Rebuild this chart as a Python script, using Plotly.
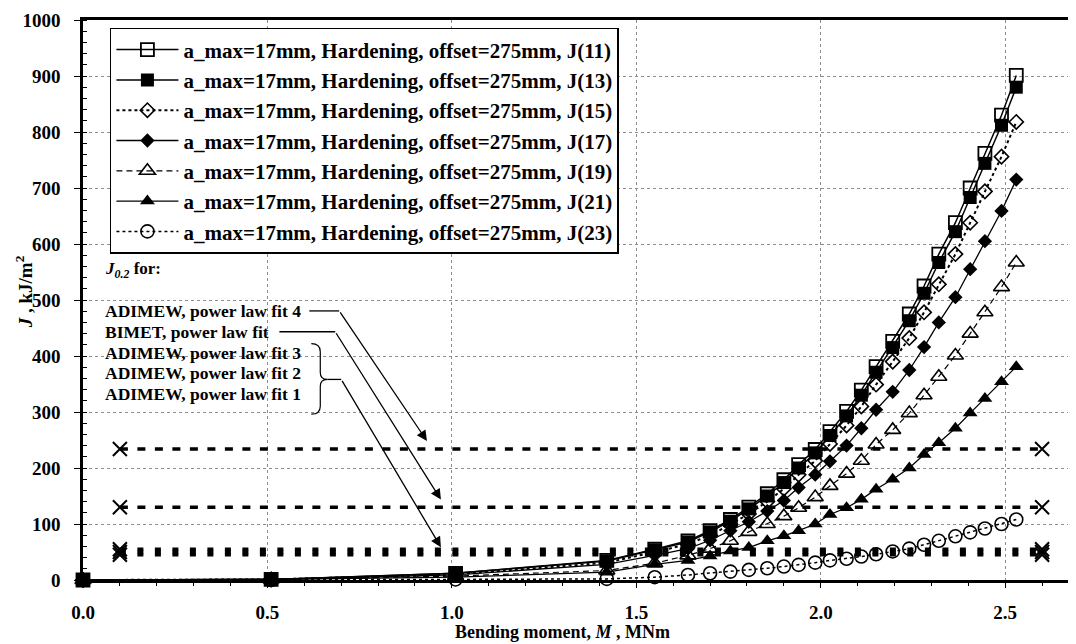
import plotly.graph_objects as go

# ---------------- data ----------------
M = [0.0, 0.51, 1.01, 1.42, 1.55, 1.64, 1.70, 1.755, 1.805, 1.855, 1.90, 1.94, 1.985,
     2.025, 2.07, 2.11, 2.15, 2.195, 2.24, 2.28, 2.32, 2.365, 2.405, 2.445, 2.49, 2.53]

J11 = [0, 1, 12, 35, 55, 70, 88, 108, 130, 154, 179, 206, 233, 265, 301, 339, 381, 426,
       475, 525, 582, 638, 700, 762, 830, 901]
J13 = [0, 1, 12, 34, 54, 68, 86, 105, 127, 150, 174, 200, 227, 258, 293, 330, 371, 415,
       463, 512, 567, 622, 683, 744, 812, 880]
J15 = [0, 1, 10, 31, 50, 64, 80, 99, 118, 140, 163, 188, 213, 243, 276, 310, 349, 390,
       432, 478, 528, 582, 638, 694, 756, 818]
J17 = [0, 1, 9, 28, 44, 56, 71, 88, 104, 123, 142, 165, 188, 212, 240, 271, 304, 336,
       375, 416, 460, 505, 555, 605, 659, 715]
J19 = [0, 1, 7, 17, 30, 44, 56, 70, 86, 100, 114, 129, 148, 168, 190, 213, 242, 268,
       298, 330, 363, 401, 440, 478, 523, 567]
J21 = [0, 1, 5, 14, 28, 35, 43, 52, 58, 70, 79, 88, 100, 117, 129, 144, 162, 180,
       200, 224, 245, 271, 298, 324, 354, 381]
J23 = [0, 0, 1, 2, 5, 9, 12, 15, 18, 21, 24, 27, 31, 35, 38, 42, 46, 51,
       56, 63, 70, 78, 85, 92, 100, 108]

series_names = ["J(11)", "J(13)", "J(15)", "J(17)", "J(19)", "J(21)", "J(23)"]
series_values = [J11, J13, J15, J17, J19, J21, J23]
legend_prefix = "a_max=17mm, Hardening, offset=275mm, "

# J0.2 levels
J02_x = [0.1, 2.6]
J02_labels = ["ADIMEW, power law fit 4", "BIMET, power law fit",
              "ADIMEW, power law fit 3", "ADIMEW, power law fit 2", "ADIMEW, power law fit 1"]
J02_values = [234, 130, 55, 50, 45]

x_ticks = [0.0, 0.5, 1.0, 1.5, 2.0, 2.5]
y_ticks = list(range(0, 1001, 100))

# ---------------- layout geometry ----------------
# the page body adds an 8px offset; design in screen pixels and compensate
OFF = 8
W, H = 1076 - OFF, 644 - OFF
S_LEFT, S_TOP, S_BOTTOM, S_RIGHT = 83, 16, 580, 1074   # plot area in screen pixels
ML, MT = S_LEFT - OFF, S_TOP - OFF
MB = H - (S_BOTTOM - OFF)
MR = W - (S_RIGHT - OFF)
PW, PH = S_RIGHT - S_LEFT, S_BOTTOM - S_TOP
XMAX = PW / 370.0
YMAX = 1000.0

def X(sx):  # screen pixel -> data x (decorations only)
    return (sx - S_LEFT) / PW * XMAX

def Y(sy):  # screen pixel -> data y (decorations only)
    return (S_BOTTOM - sy) / PH * YMAX

def PX(sx):
    return (sx - S_LEFT) / PW

def PY(sy):
    return (S_BOTTOM - sy) / PH

FONT = "Liberation Serif"

styles = [
    dict(line=dict(color="black", width=1.5, dash="solid"),
         marker=dict(symbol="square-open", size=13, color="black", line=dict(width=1.8))),
    dict(line=dict(color="black", width=1.5, dash="solid"),
         marker=dict(symbol="square", size=13, color="black", line=dict(width=0))),
    dict(line=dict(color="black", width=2, dash="dot"),
         marker=dict(symbol="diamond-open", size=11, color="black", line=dict(width=1.6))),
    dict(line=dict(color="black", width=1.3, dash="solid"),
         marker=dict(symbol="diamond", size=11, color="black", line=dict(width=0))),
    dict(line=dict(color="black", width=1.2, dash="6px,4px"),
         marker=dict(symbol="triangle-up-open", size=14, color="black", line=dict(width=1.6))),
    dict(line=dict(color="black", width=1.3, dash="solid"),
         marker=dict(symbol="triangle-up", size=13, color="black", line=dict(width=0))),
    dict(line=dict(color="black", width=1.5, dash="dot"),
         marker=dict(symbol="circle-open", size=13, color="black", line=dict(width=1.6))),
]

fig = go.Figure()

# J0.2 reference levels
for lab, val in zip(J02_labels, J02_values):
    upper = val > 100
    fig.add_trace(go.Scatter(
        x=J02_x, y=[val, val], mode="lines+markers", name=lab, showlegend=False,
        line=dict(color="black", width=3.5, dash="8px,9.5px" if upper else "6px,11.5px"),
        marker=dict(symbol="x-thin-open", size=14, color="black", line=dict(width=2, color="black")),
        cliponaxis=False,
    ))

for i, (nm, vals) in enumerate(zip(series_names, series_values)):
    st = styles[i]
    fig.add_trace(go.Scatter(
        x=M, y=vals, mode="lines+markers", name=legend_prefix + nm,
        legendgroup=f"g{i}", line=st["line"], marker=st["marker"], cliponaxis=False,
    ))

# ---------------- annotations ----------------
ann = []
ann.append(dict(x=X(103), y=Y(268), xref="x", yref="y", xanchor="left", yanchor="middle",
                text="<i>J</i><sub><i>0.2</i></sub> for:", showarrow=False,
                font=dict(family=FONT, size=17, color="black", weight="bold")))
rows_sy = [309, 330, 351, 372, 393]
for lab, sy in zip(J02_labels, rows_sy):
    ann.append(dict(x=X(103), y=Y(sy), xref="x", yref="y", xanchor="left", yanchor="middle",
                    text=lab, showarrow=False,
                    font=dict(family=FONT, size=17.5, color="black", weight="bold")))

arrows = [((340, 309), (428, 440)), ((336, 330), (442, 499)), ((342, 378), (442, 547))]
for (tx, ty), (hx, hy) in arrows:
    ann.append(dict(x=X(hx), y=Y(hy), ax=X(tx), ay=Y(ty), xref="x", yref="y",
                    axref="x", ayref="y", text="", showarrow=True, arrowhead=2,
                    arrowsize=1.6, arrowwidth=1.3, arrowcolor="black", standoff=0,
                    startstandoff=0))

# axis titles
ann.append(dict(x=PX(24), y=PY(290), xref="paper", yref="paper", xanchor="center",
                yanchor="middle", textangle=-90, showarrow=False,
                text="<i>J</i> , kJ/m<sup>2</sup>",
                font=dict(family=FONT, size=19, color="black", weight="bold")))
ann.append(dict(x=PX(564), y=PY(632), xref="paper", yref="paper", xanchor="center",
                yanchor="middle", showarrow=False,
                text="Bending moment, <i>M</i> , MNm",
                font=dict(family=FONT, size=18, color="black", weight="bold")))

shapes = []
# connector segments
for (x0, y0, x1, y1) in [(310, 309, 340, 309), (280, 330, 336, 330), (328, 378, 342, 378)]:
    shapes.append(dict(type="line", xref="x", yref="y", x0=X(x0), y0=Y(y0), x1=X(x1), y1=Y(y1),
                       line=dict(color="black", width=1.3)))
# curly brace
brace = (f"M {X(312)},{Y(342)} Q {X(321)},{Y(342)} {X(321)},{Y(350)} "
         f"L {X(321)},{Y(371)} Q {X(321)},{Y(378)} {X(328)},{Y(378)} "
         f"Q {X(321)},{Y(378)} {X(321)},{Y(385)} L {X(321)},{Y(405)} "
         f"Q {X(321)},{Y(413)} {X(312)},{Y(413)}")
shapes.append(dict(type="path", xref="x", yref="y", path=brace,
                   line=dict(color="black", width=1.2)))

fig.update_layout(
    width=W, height=H,
    margin=dict(l=ML, r=MR, t=MT, b=MB),
    paper_bgcolor="white", plot_bgcolor="white",
    font=dict(family=FONT, size=19, color="black", weight="bold"),
    showlegend=True,
    legend=dict(x=PX(110), y=PY(24), xanchor="left", yanchor="top",
                bgcolor="white", bordercolor="black", borderwidth=1.5,
                font=dict(family=FONT, size=21, color="black", weight="bold"),
                tracegroupgap=0, itemwidth=62),
    annotations=ann, shapes=shapes,
    xaxis=dict(range=[0, XMAX], tickvals=x_ticks, ticktext=[f"{v:.1f}" for v in x_ticks],
               showgrid=True, gridcolor="#8c8c8c", griddash="dot", gridwidth=1,
               showline=True, linecolor="black", linewidth=2.5, mirror=True,
               ticks="outside", ticklen=5, tickcolor="black", ticklabelstandoff=8,
               ticklabeloverflow="allow",
               minor=dict(ticks="outside", ticklen=3, dtick=0.1, tickcolor="black", showgrid=False),
               zeroline=False, tickfont=dict(size=19)),
    yaxis=dict(range=[0, YMAX], tickvals=y_ticks,
               showgrid=True, gridcolor="#8c8c8c", griddash="dot", gridwidth=1,
               showline=True, linecolor="black", linewidth=2.5, mirror=True,
               ticks="outside", ticklen=6, tickcolor="black", ticklabelstandoff=10,
               ticklabeloverflow="allow",
               minor=dict(ticks="inside", ticklen=4, dtick=20, tickcolor="black", showgrid=False),
               zeroline=False, tickfont=dict(size=19)),
)

fig.write_html("out.html")
